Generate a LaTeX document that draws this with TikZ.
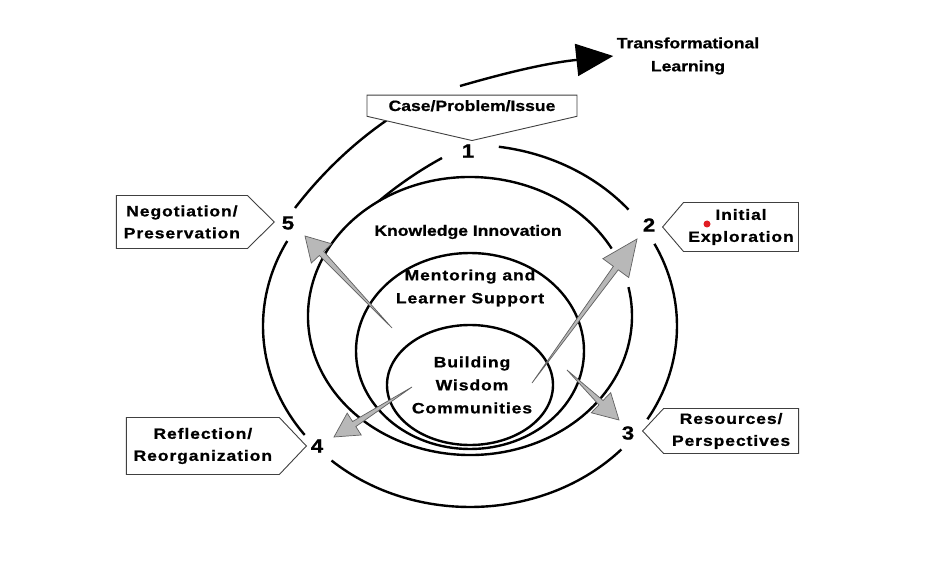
\documentclass[tikz,border=0pt]{standalone}
\usepackage{fontspec}
\setmainfont{Liberation Sans}[FakeStretch=1.17,BoldFeatures={FakeBold=0.8}]
\newfontfamily\spacedfont{Liberation Sans}[FakeStretch=1.17,LetterSpace=6,BoldFeatures={FakeBold=0.8}]
\usetikzlibrary{shapes.symbols,arrows.meta,calc}
\definecolor{arrgray}{gray}{0.72}
\definecolor{arrline}{gray}{0.38}
\definecolor{dotred}{RGB}{225,30,35}
\tikzset{
	ring/.style={line width=2.4pt},
	tag/.style={signal,draw=black!75,line width=0.9pt,fill=white,inner sep=0pt,align=center,
		font=\spacedfont\bfseries\fontsize{15}{22}\selectfont},
	num/.style={font=\bfseries\fontsize{19}{19}\selectfont,inner sep=1pt},
	lbl/.style={font=\bfseries\fontsize{15}{23}\selectfont,align=center},
	spc/.style={font=\spacedfont\bfseries\fontsize{15}{23}\selectfont,align=center},
	grayarr/.style={fill=arrgray,draw=arrline,line width=0.7pt,line join=miter}
}
\newcommand\grayarrow[4]{%
	\path ($(#2)!#3!(#1)$) coordinate (hb);
	\filldraw[grayarr] (#1) -- ($(hb)!3pt!-90:(#2)$) -- ($(hb)!#4!-90:(#2)$) -- (#2)
		-- ($(hb)!#4!90:(#2)$) -- ($(hb)!3pt!90:(#2)$) -- cycle;
}

\begin{document}
\begin{tikzpicture}[x=1pt,y=-1pt]
	\fill[white] (0,0) rectangle (929,580);
	\useasboundingbox (0,0) rectangle (929,580);

	\foreach \a/\b in {-82/-40,-27/31,43/132,143/208}
		\draw[ring] (470,326) ++(\a:207 and 181) arc[start angle=\a,end angle=\b,x radius=207,y radius=181];
	\draw[ring] (295,208) .. controls (318,178) and (350,145) .. (390,118);
	\draw[ring] (470,316) ++(-29:162 and 139) arc[start angle=-29,end angle=-372,x radius=162,y radius=139];
	\draw[ring] (442,158) .. controls (420,170) and (398,185) .. (379,201);
	\draw[ring] (470,351) ellipse[x radius=114,y radius=98];
	\draw[ring] (470,385) ellipse[x radius=83,y radius=60];

	\node[num] (n1) at (468,151) {1};
	\node[num] (n2) at (649,225) {2};
	\node[num] (n3) at (628,433) {3};
	\node[num] (n4) at (317,446) {4};
	\node[num] (n5) at (288,223) {5};

	\node[tag,signal to=south,signal pointer angle=154,text width=210pt,inner ysep=5pt,anchor=south,
		font=\bfseries\fontsize{15}{18}\selectfont] (case) at (472,141) {Case/Problem/Issue};
	\node[tag,signal to=east,signal pointer angle=89,text width=131pt,minimum height=53pt,anchor=east] (neg) at (275,222) {Negotiation/\\Preservation};
	\node[tag,signal to=west,signal pointer angle=99,text width=115pt,minimum height=49pt,anchor=west] (init) at (662,227) {Initial\\Exploration};
	\node[tag,signal to=east,signal pointer angle=93,text width=153pt,minimum height=57pt,anchor=east] (refl) at (307,446) {Reflection/\\Reorganization};
	\node[tag,signal to=west,signal pointer angle=94,text width=135pt,minimum height=45pt,anchor=west] (res) at (642,431) {Resources/\\Perspectives};
	\fill[dotred] (707,224) circle (3.5);

	\node[lbl] (tl) at (688,56) {Transformational\\Learning};
	\coordinate (ts) at (460,86);
	\draw[line width=2.4pt,-{Triangle[length=37pt,width=32pt]}] (ts) to[bend left=5] (tl.west);

	\node[lbl] (ki) at (468,232) {Knowledge Innovation};
	\node[spc] (mls) at (470,288) {Mentoring and\\Learner Support};
	\node[spc] (bwc) at (472,385) {Building\\Wisdom\\Communities};

	\coordinate (t5) at (392,328);
	\coordinate (h5) at (305,236);
	\coordinate (t2) at (532,383);
	\coordinate (h2) at (637,239);
	\coordinate (t3) at (567,370);
	\coordinate (h3) at (619,420);
	\coordinate (t4) at (412,387);
	\coordinate (h4) at (334,437);
	\grayarrow{t5}{h5}{24pt}{14pt}
	\grayarrow{t2}{h2}{36pt}{16pt}
	\grayarrow{t3}{h3}{25pt}{14pt}
	\grayarrow{t4}{h4}{24pt}{13pt}
\end{tikzpicture}
\end{document}
